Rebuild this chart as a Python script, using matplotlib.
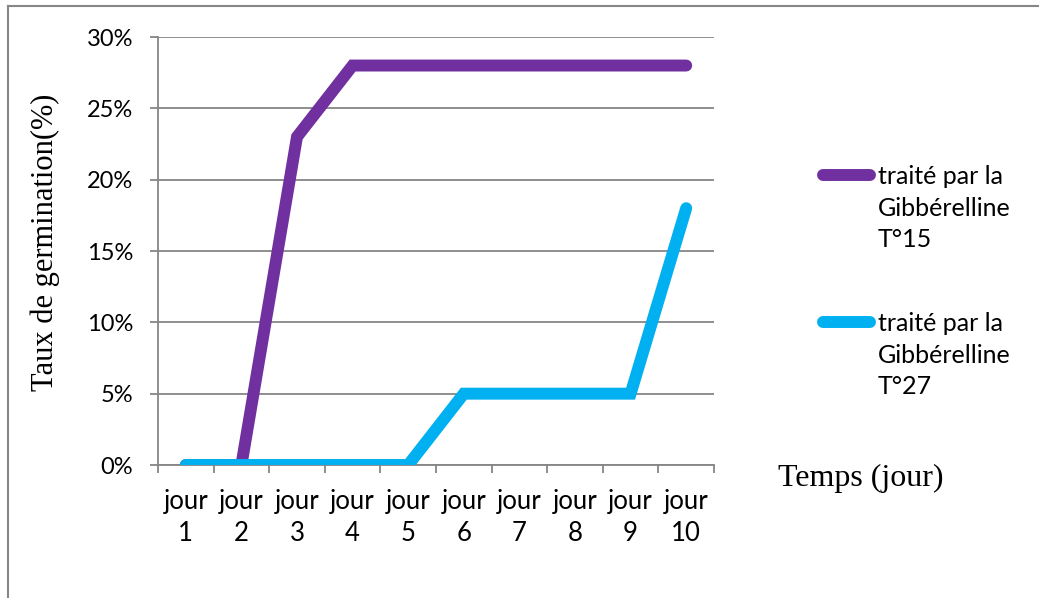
import matplotlib.pyplot as plt
from matplotlib.lines import Line2D

# taux de germination (fraction) par jour
jours = ["jour\n1", "jour\n2", "jour\n3", "jour\n4", "jour\n5",
         "jour\n6", "jour\n7", "jour\n8", "jour\n9", "jour\n10"]
t15 = [0.00, 0.00, 0.23, 0.28, 0.28, 0.28, 0.28, 0.28, 0.28, 0.28]
t27 = [0.00, 0.00, 0.00, 0.00, 0.00, 0.05, 0.05, 0.05, 0.05, 0.18]
series_labels = ["traité par la\nGibbérelline\nT°15", "traité par la\nGibbérelline\nT°27"]
series_colors = ["#7030A0", "#00B0F0"]
yticks = [0.0, 0.05, 0.10, 0.15, 0.20, 0.25, 0.30]

GRID = "#868686"
SANS = ["Lato", "DejaVu Sans"]
SERIF = ["Liberation Serif", "DejaVu Serif"]

fig = plt.figure(figsize=(10.39, 5.98), dpi=100)
W, H = 1039, 598
ax = fig.add_axes([158 / W, 1 - 465 / H, (714 - 158) / W, (465 - 37) / H])

x = list(range(len(jours)))
for vals, col in zip([t15, t27], series_colors):
    ax.plot(x, vals, color=col, lw=8.6, solid_capstyle="round",
            solid_joinstyle="miter", zorder=3)

ax.set_xlim(-0.5, len(jours) - 0.5)
ax.set_ylim(0, 0.30)
ax.set_yticks(yticks)
ax.set_yticklabels([f"{v * 100:.0f}%" for v in yticks], family=SANS, fontsize=17)
ax.yaxis.grid(True, color=GRID, lw=1.3)
ax.set_axisbelow(True)

ax.set_xticks(x)
ax.set_xticklabels(jours, family=SANS, fontsize=18.5, linespacing=1.35)
ax.set_xticks([i - 0.5 for i in range(len(jours) + 1)], minor=True)
ax.tick_params(axis="x", which="major", length=0, pad=17)
ax.tick_params(axis="x", which="minor", length=6, width=1.3, color=GRID, direction="out")
ax.tick_params(axis="y", length=6, width=1.3, color=GRID, pad=12)

for side in ("top", "right"):
    ax.spines[side].set_visible(False)
for side in ("left", "bottom"):
    ax.spines[side].set_color(GRID)
    ax.spines[side].set_linewidth(1.3)

fig.text(45 / W, 1 - 242 / H, "Taux de germination(%)", rotation=90,
         ha="center", va="center", family=SERIF, fontsize=22)
fig.text(861 / W, 1 - 478 / H, "Temps (jour)", ha="center", va="center",
         family=SERIF, fontsize=23)

# légende à droite, trait aligné sur la première ligne du texte
for (y0, lab, col) in zip([175, 322], series_labels, series_colors):
    fig.add_artist(Line2D([823 / W, 870 / W], [1 - y0 / H] * 2, color=col, lw=8.6,
                          solid_capstyle="round", transform=fig.transFigure))
    fig.text(878 / W, 1 - (y0 - 10) / H, lab, ha="left", va="top",
             family=SANS, fontsize=18, linespacing=1.45)

# cadre de la zone graphique
fig.add_artist(Line2D([8 / W, 1], [1 - 6 / H] * 2, color=GRID, lw=1.5,
                      transform=fig.transFigure))
fig.add_artist(Line2D([8 / W] * 2, [0, 1 - 6 / H], color=GRID, lw=1.5,
                      transform=fig.transFigure))

fig.savefig("out.png", dpi=100)
